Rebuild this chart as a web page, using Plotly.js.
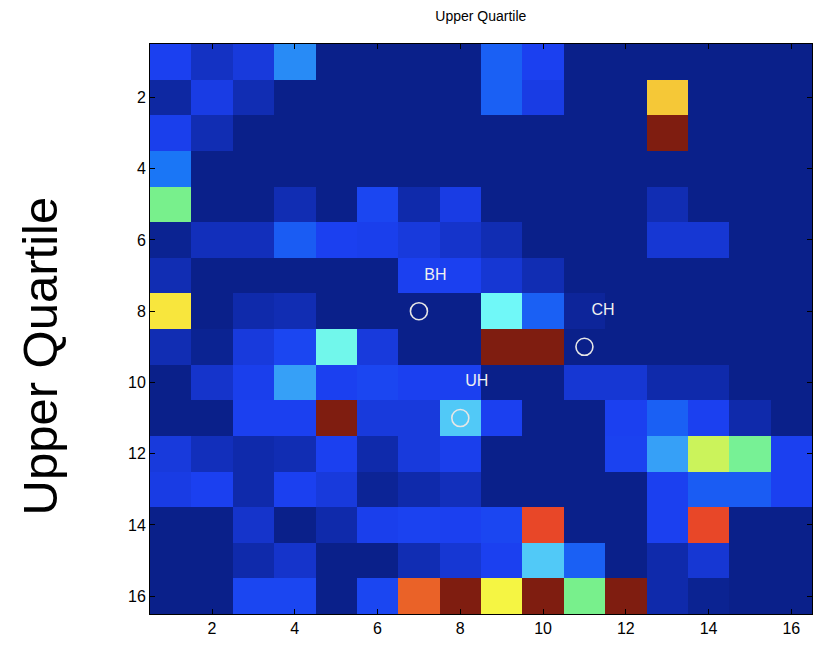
<!DOCTYPE html>
<html>
<head>
<meta charset="utf-8">
<script src="https://cdn.plot.ly/plotly-3.0.1.min.js"></script>
<style>html,body{margin:0;padding:0;background:#fff;}#chart{width:815px;height:646px;}</style>
</head>
<body>
<div id="chart"></div>
<script>
var xCats = [1,2,3,4,5,6,7,8,9,10,11,12,13,14,15,16];
var yCats = [1,2,3,4,5,6,7,8,9,10,11,12,13,14,15,16];
var tickVals = [2,4,6,8,10,12,14,16];
var tickText = ["2","4","6","8","10","12","14","16"];

var row1  = [0.125,0.07,0.10,0.27,0,0,0,0,0.20,0.125,0,0,0,0,0,0];
var row2  = [0.03,0.11,0.05,0,0,0,0,0,0.20,0.11,0,0,0.67,0,0,0];
var row3  = [0.12,0.05,0,0,0,0,0,0,0,0,0,0,1,0,0,0];
var row4  = [0.25,0,0,0,0,0,0,0,0,0,0,0,0,0,0,0];
var row5  = [0.50,0,0,0.05,0,0.14,0.04,0.11,0,0,0,0,0.05,0,0,0];
var row6  = [0.01,0.06,0.06,0.19,0.125,0.12,0.10,0.08,0.05,0,0,0,0.09,0.09,0,0];
var row7  = [0.05,0,0,0,0,0,0.125,0.125,0.09,0.05,0,0,0,0,0,0];
var row8  = [0.64,0,0.04,0.05,0,0,0,0,0.375,0.20,0.02,0,0,0,0,0];
var row9  = [0.05,0.01,0.10,0.14,0.39,0.10,0,0,1,1,0,0,0,0,0,0];
var row10 = [0,0.08,0.12,0.29,0.125,0.14,0.125,0.125,0,0,0.09,0.09,0.04,0.04,0,0];
var row11 = [0,0,0.125,0.125,1,0.10,0.10,0.33,0.125,0,0,0.125,0.20,0.125,0.04,0];
var row12 = [0.10,0.06,0.04,0.05,0.125,0.04,0.10,0.12,0,0,0,0.13,0.29,0.58,0.49,0.125];
var row13 = [0.11,0.125,0.04,0.125,0.10,0.015,0.04,0.06,0,0,0,0,0.125,0.19,0.19,0.125];
var row14 = [0,0,0.08,0,0.04,0.12,0.13,0.125,0.14,0.86,0,0,0.125,0.86,0,0];
var row15 = [0,0,0.04,0.08,0,0,0.05,0.09,0.125,0.33,0.20,0,0.04,0.09,0,0];
var row16 = [0,0,0.14,0.14,0,0.14,0.80,1,0.62,1,0.50,1,0.04,0.01,0,0];
var zValues = [row1,row2,row3,row4,row5,row6,row7,row8,row9,row10,row11,row12,row13,row14,row15,row16];

var scaleStops  = [0, 0.125, 0.25, 0.375, 0.5, 0.625, 0.75, 0.875, 1];
var scaleColors = ["rgb(10,32,138)","rgb(27,64,240)","rgb(26,118,246)","rgb(112,248,248)",
                   "rgb(120,240,140)","rgb(250,245,64)","rgb(236,120,40)","rgb(232,64,40)","rgb(127,29,16)"];

var labelText = ["BH","CH","UH"];
var labelX = [7.4, 11.45, 8.4];
var labelY = [7, 8, 10];
var circleX = [7, 11, 8];
var circleY = [8, 9, 11];

var colorscale = scaleStops.map(function(s,i){return [s, scaleColors[i]];});

var heat = {
  type: 'heatmap', x: xCats, y: yCats, z: zValues,
  zmin: 0, zmax: 1, colorscale: colorscale, showscale: false,
  hoverinfo: 'skip'
};
var circles = {
  type: 'scatter', mode: 'markers', x: circleX, y: circleY,
  marker: {symbol: 'circle-open', size: 17, color: '#e6e6e6', line: {width: 1.6, color: '#e6e6e6'}},
  hoverinfo: 'skip', showlegend: false
};
var labels = {
  type: 'scatter', mode: 'text', x: labelX, y: labelY, text: labelText,
  textfont: {family: 'Liberation Sans Narrow, Liberation Sans, Arial', size: 16, color: '#f0f0f0'},
  hoverinfo: 'skip', showlegend: false
};

var fontFam = 'Liberation Sans Narrow, Liberation Sans, Arial';
var layout = {
  width: 815, height: 646,
  margin: {l: 150, r: 3, t: 44, b: 32},
  paper_bgcolor: '#fff', plot_bgcolor: '#fff',
  showlegend: false,
  title: {text: 'Upper Quartile', x: 0.59, xanchor: 'center', y: 0.975, yanchor: 'middle',
          font: {family: fontFam, size: 14, color: '#000'}},
  xaxis: {range: [0.5, 16.5], tickvals: tickVals, ticktext: tickText,
          ticks: 'inside', ticklen: 5, tickcolor: '#000', showline: true, linecolor: '#000',
          linewidth: 1, mirror: 'ticks', showgrid: false, zeroline: false,
          tickfont: {family: fontFam, size: 16, color: '#000'}},
  yaxis: {range: [16.5, 0.5], tickvals: tickVals, ticktext: tickText,
          ticks: 'inside', ticklen: 5, tickcolor: '#000', showline: true, linecolor: '#000',
          linewidth: 1, mirror: 'ticks', showgrid: false, zeroline: false,
          tickfont: {family: fontFam, size: 16, color: '#000'}},
  annotations: [{
    text: 'Upper Quartile', xref: 'paper', yref: 'paper', x: -0.166, y: 0.452,
    xanchor: 'center', yanchor: 'middle', textangle: -90, showarrow: false,
    font: {family: 'Liberation Sans, Arial', size: 49, color: '#000'}
  }]
};
Plotly.newPlot('chart', [heat, circles, labels], layout, {displayModeBar: false, staticPlot: true});
</script>
</body>
</html>
